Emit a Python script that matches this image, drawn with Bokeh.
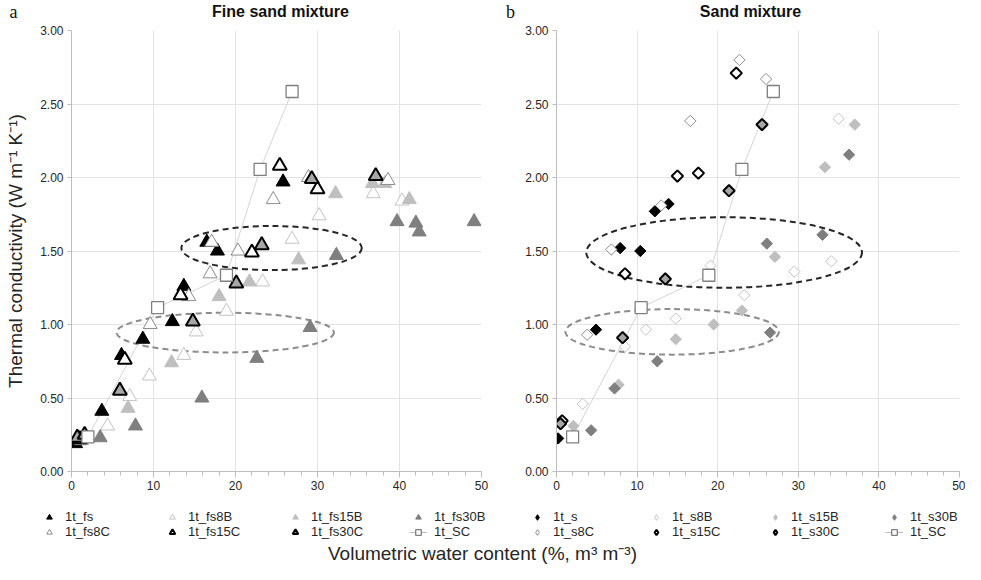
import numpy as np
from bokeh.plotting import figure
from bokeh.models import (Range1d, Legend, LegendItem, Label, SingleIntervalTicker,
                          NumeralTickFormatter)
from bokeh.layouts import row, column
from bokeh.embed import file_html
from bokeh.resources import INLINE

# ---------------- data: (a) fine sand mixture ----------------
fs_x = [0.5, 3.7, 6.1, 8.7, 12.3, 13.7, 16.5, 17.8, 25.8]
fs_y = [0.19, 0.41, 0.79, 0.90, 1.02, 1.26, 1.56, 1.50, 1.97]
fs8B_x = [4.4, 7.1, 9.5, 13.7, 15.2, 18.9, 23.3, 26.9, 30.2, 36.8, 40.3]
fs8B_y = [0.31, 0.51, 0.65, 0.79, 0.95, 1.09, 1.29, 1.58, 1.74, 1.89, 1.84]
fs15B_x = [6.9, 12.2, 18.0, 21.7, 27.7, 32.2, 36.7, 38.2, 41.2]
fs15B_y = [0.43, 0.74, 1.19, 1.29, 1.44, 1.89, 1.96, 1.96, 1.85]
fs30B_x = [3.5, 7.8, 15.9, 22.6, 29.1, 32.3, 39.7, 42.0, 42.4, 49.1]
fs30B_y = [0.23, 0.31, 0.50, 0.77, 0.98, 1.47, 1.70, 1.69, 1.63, 1.70]
fs8C_x = [1.2, 9.6, 14.3, 16.9, 17.1, 20.3, 24.6, 28.9, 38.6]
fs8C_y = [0.21, 1.00, 1.19, 1.345, 1.56, 1.50, 1.85, 2.00, 1.98]
fs15C_x = [1.0, 6.5, 13.3, 22.0, 25.4, 30.0]
fs15C_y = [0.22, 0.76, 1.20, 1.49, 2.08, 1.92]
fs30C_x = [0.7, 1.6, 5.9, 14.8, 20.1, 23.2, 29.3, 37.1]
fs30C_y = [0.23, 0.25, 0.55, 1.02, 1.28, 1.54, 1.99, 2.01]
SC_x = [2.0, 10.5, 18.9, 23.0, 26.9]
SC_y = [0.235, 1.115, 1.335, 2.055, 2.585]

# ---------------- data: (b) sand mixture ----------------
s_x = [0.2, 4.9, 7.9, 10.4, 12.2, 13.9]
s_y = [0.225, 0.965, 1.52, 1.50, 1.77, 1.82]
s8B_x = [3.25, 8.5, 11.1, 14.8, 19.1, 23.3, 29.5, 34.1, 35.0]
s8B_y = [0.46, 0.85, 0.965, 1.04, 1.40, 1.20, 1.36, 1.43, 2.40]
s15B_x = [2.1, 7.7, 14.8, 19.5, 23.0, 27.1, 33.3, 37.0]
s15B_y = [0.31, 0.59, 0.90, 1.00, 1.095, 1.46, 2.07, 2.36]
s30B_x = [4.3, 7.2, 12.5, 26.5, 26.1, 33.0, 36.3]
s30B_y = [0.28, 0.565, 0.75, 0.945, 1.55, 1.61, 2.155]
s8C_x = [3.8, 6.8, 13.0, 16.6, 22.7, 26.0]
s8C_y = [0.93, 1.51, 1.81, 2.385, 2.80, 2.67]
s15C_x = [0.7, 8.5, 15.0, 17.6, 22.3]
s15C_y = [0.345, 1.345, 2.01, 2.03, 2.71]
s30C_x = [0.5, 8.2, 13.5, 21.4, 25.5]
s30C_y = [0.325, 0.91, 1.31, 1.91, 2.36]

# ---------------- ellipses (center x, center y, width, height) ----------------
ell_a_x = [24.4, 18.75]
ell_a_y = [1.52, 0.945]
ell_a_w = [22.0, 26.5]
ell_a_h = [0.30, 0.27]
ell_b_x = [20.8, 14.35]
ell_b_y = [1.49, 0.95]
ell_b_w = [34.2, 26.5]
ell_b_h = [0.48, 0.31]
ell_colors = ["#262626", "#8c8c8c"]

x_ticks_interval = 10
y_ticks_interval = 0.5

FONT = "Liberation Sans"
TXT = "#262626"


def style(mark, fill, line, lw):
    return dict(marker=mark, fill_color=fill, line_color=line, line_width=lw)


def bare_figure(width, height, rng=(0, 1)):
    f = figure(width=width, height=height, output_backend="svg", toolbar_location=None,
               x_range=Range1d(*rng), y_range=Range1d(*rng), min_border=0,
               x_axis_location=None, y_axis_location=None, title=None)
    f.grid.visible = False
    f.outline_line_color = None
    return f


def make_panel(width, bl, br, groups, sc, ells, ylabel, legend_x, label_w, leg_marker):
    p = figure(width=width, height=482, x_range=Range1d(0, 50), y_range=Range1d(0, 3),
               output_backend="svg", toolbar_location=None, title=None,
               min_border_left=bl, min_border_right=br, min_border_top=8,
               min_border_bottom=33)
    p.outline_line_color = None
    xt = SingleIntervalTicker(interval=x_ticks_interval, num_minor_ticks=5)
    yt = SingleIntervalTicker(interval=y_ticks_interval, num_minor_ticks=0)
    p.xaxis.ticker = xt
    p.yaxis.ticker = yt
    p.xgrid.ticker = xt
    p.ygrid.ticker = yt
    p.grid.grid_line_color = "#e3e3e3"
    p.grid.grid_line_width = 1
    p.yaxis.formatter = NumeralTickFormatter(format="0.00")
    for ax in (p.xaxis, p.yaxis):
        ax.axis_line_color = "#bdbdbd"
        ax.major_tick_line_color = "#bdbdbd"
        ax.minor_tick_line_color = "#bdbdbd"
        ax.major_tick_in = 0
        ax.minor_tick_in = 0
        ax.major_label_text_font = FONT
        ax.major_label_text_font_size = "12px"
        ax.major_label_text_color = TXT
    p.xaxis.major_tick_out = 6
    p.xaxis.minor_tick_out = 4
    p.yaxis.major_tick_out = 4
    p.xaxis.major_label_standoff = 3
    p.yaxis.major_label_standoff = 4
    if ylabel:
        p.yaxis.axis_label = ylabel
        p.yaxis.axis_label_text_font = FONT
        p.yaxis.axis_label_text_font_size = "19px"
        p.yaxis.axis_label_text_font_style = "normal"
        p.yaxis.axis_label_text_color = TXT
        p.yaxis.axis_label_standoff = 11

    ex, ey, ew, eh = ells
    for i in range(len(ex)):
        p.ellipse(x=[ex[i]], y=[ey[i]], width=[ew[i]], height=[eh[i]],
                  fill_color=None, line_color=ell_colors[i], line_width=2,
                  line_dash="6 4")

    # legend lives in a strip below the panel; its renderers use the same data,
    # which falls outside the strip's (empty) ranges, so only the legend shows
    lg = bare_figure(width, 40, rng=(1000, 1001))
    items = []
    scx, scy, scname, scsize = sc
    p.line(scx, scy, line_color="#d4d4d4", line_width=1)
    for (gx, gy, name, st, size, angle) in groups:
        p.scatter(gx, gy, size=size, angle=angle, **st)
        lst = dict(st)
        if leg_marker:
            lst["marker"] = leg_marker
        r = lg.scatter(gx, gy, size=size, **lst)
        items.append(LegendItem(label=name, renderers=[r]))
    sc_style = dict(marker="square", fill_color="white", line_color="#7f7f7f",
                    line_width=1.3)
    p.scatter(scx, scy, size=scsize, **sc_style)
    l1 = lg.line(scx, scy, line_color="#bdbdbd", line_width=1)
    r1 = lg.scatter(scx, scy, size=scsize, **sc_style)
    items.append(LegendItem(label=scname, renderers=[l1, r1]))

    leg = Legend(items=items, orientation="horizontal", ncols=4,
                 location=(legend_x, 5), padding=0, margin=0, spacing=-1,
                 glyph_width=18, glyph_height=14, label_height=13, label_width=label_w,
                 label_standoff=7, border_line_color=None, background_fill_alpha=0,
                 label_text_font=FONT, label_text_font_size="13px",
                 label_text_color=TXT)
    lg.add_layout(leg, "center")
    return p, lg


tri, dia = "triangle", "square"
A45 = np.pi / 4
groups_a = [
    (fs_x, fs_y, "1t_fs", style(tri, "black", "black", 1), 14, 0),
    (fs8B_x, fs8B_y, "1t_fs8B", style(tri, "white", "#c4c4c4", 1), 14, 0),
    (fs15B_x, fs15B_y, "1t_fs15B", style(tri, "#bfbfbf", "#bfbfbf", 1), 14, 0),
    (fs30B_x, fs30B_y, "1t_fs30B", style(tri, "#7f7f7f", "#7f7f7f", 1), 14, 0),
    (fs8C_x, fs8C_y, "1t_fs8C", style(tri, "white", "#8c8c8c", 1), 14, 0),
    (fs15C_x, fs15C_y, "1t_fs15C", style(tri, "white", "black", 2), 14, 0),
    (fs30C_x, fs30C_y, "1t_fs30C", style(tri, "#a6a6a6", "black", 2), 14, 0),
]
groups_b = [
    (s_x, s_y, "1t_s", style(dia, "black", "black", 1), 8, A45),
    (s8B_x, s8B_y, "1t_s8B", style(dia, "white", "#c4c4c4", 1), 8, A45),
    (s15B_x, s15B_y, "1t_s15B", style(dia, "#bfbfbf", "#bfbfbf", 1), 8, A45),
    (s30B_x, s30B_y, "1t_s30B", style(dia, "#7f7f7f", "#7f7f7f", 1), 8, A45),
    (s8C_x, s8C_y, "1t_s8C", style(dia, "white", "#8c8c8c", 1), 8, A45),
    (s15C_x, s15C_y, "1t_s15C", style(dia, "white", "black", 2), 8, A45),
    (s30C_x, s30C_y, "1t_s30C", style(dia, "#a6a6a6", "black", 2), 8, A45),
]

pa, la = make_panel(488, 71, 7, groups_a, (SC_x, SC_y, "1t_SC", 12),
                    (ell_a_x, ell_a_y, ell_a_w, ell_a_h),
                    "Thermal conductivity (W m\u207b\u00b9 K\u207b\u00b9)", 40, 98, None)
pb, lb = make_panel(477, 68, 6, groups_b, (SC_x, SC_y, "1t_SC", 12),
                    (ell_b_x, ell_b_y, ell_b_w, ell_b_h), None, 40, 94, "diamond")

# header strip: panel letters and panel titles
hd = bare_figure(965, 22)
for txt, x, font, style_, size in [
        ("a", 13, "Liberation Serif", "normal", "18px"),
        ("Fine sand mixture", 280, FONT, "bold", "16px"),
        ("b", 510, "Liberation Serif", "normal", "18px"),
        ("Sand mixture", 750, FONT, "bold", "16px")]:
    hd.add_layout(Label(x=x, y=11, x_units="screen", y_units="screen", text=txt,
                        text_font=font, text_font_style=style_, text_font_size=size,
                        text_align="center", text_baseline="middle",
                        text_color="#111111"))

pt = bare_figure(965, 20)
pt.add_layout(Label(x=482, y=1, x_units="screen", y_units="screen",
                    text="Volumetric water content (%, m\u00b3 m\u207b\u00b3)",
                    text_font=FONT, text_font_size="19px", text_align="center",
                    text_baseline="bottom", text_color=TXT))

layout = column(hd, row(pa, pb), row(la, lb), pt)
open("out.html", "w").write(file_html(layout, INLINE))
